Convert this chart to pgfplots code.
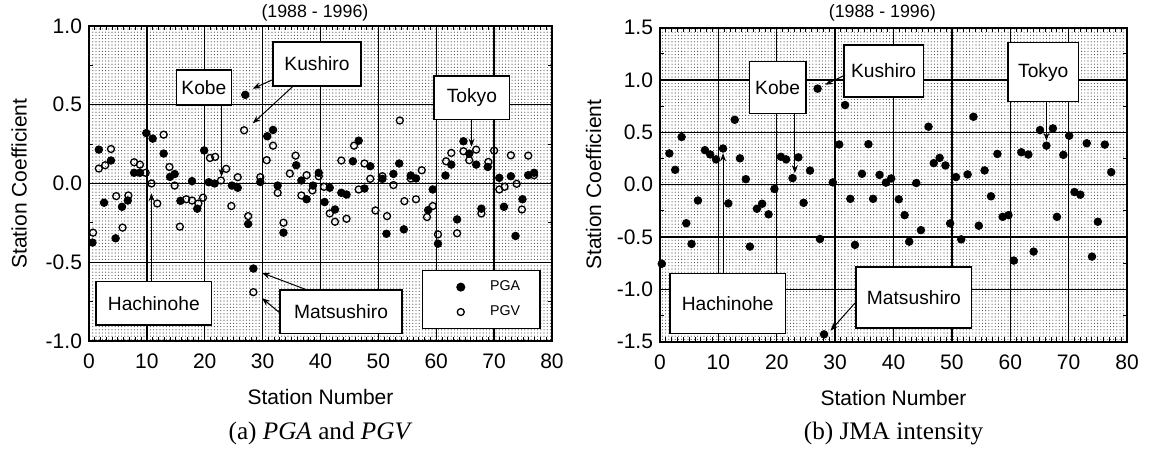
\documentclass[border=0pt]{standalone}
\usepackage{pgfplots}
\pgfplotsset{compat=1.18}
\usepackage{fontspec}
\setmainfont{Liberation Sans}
\newfontfamily\capfont{Liberation Serif}
\usetikzlibrary{patterns,arrows.meta}

% fine stipple used as the plot-area background
\pgfdeclarepatternformonly{stipple}{\pgfqpoint{-0.5pt}{-0.5pt}}{\pgfqpoint{0.5pt}{0.5pt}}{\pgfqpoint{1.6pt}{1.6pt}}{%
  \pgfpathcircle{\pgfqpoint{0pt}{0pt}}{0.28pt}\pgfusepath{fill}}

\pgfplotsset{
  panel/.style={
    scale only axis, anchor=south west,
    xmin=0, xmax=80,
    xtick={0,10,...,80}, xticklabels={0,10,20,30,40,50,60,70,80},
    minor x tick num=9, minor y tick num=1,
    tick align=inside, major tick length=2.2pt, minor tick length=2.2pt,
    grid=major,
    major grid style={black, line width=0.65pt},
    axis line style={line width=1pt},
    every tick/.style={black, line width=0.5pt},
    axis background/.style={pattern=stipple, pattern color=black!75},
    tick label style={font=\fontsize{10.5}{12}\selectfont},
    label style={font=\fontsize{10.5}{12}\selectfont},
    xticklabel style={yshift=-2.8pt},
    xlabel={Station Number},
    ylabel={Station Coefficient},
    clip=false,
  },
  pga/.style={only marks, mark=*, mark size=1.9pt, mark options={fill=black, draw=black},
    legend image code/.code={\path (-18.8pt,0pt); \draw[##1] plot coordinates {(0pt,0pt)};}},
  pgv/.style={only marks, mark=o, mark size=1.75pt, mark options={fill=white, draw=black, line width=0.65pt},
    legend image code/.code={\path (-18.8pt,0pt); \draw[##1] plot coordinates {(0pt,0pt)};}},
}
\tikzset{
  tag/.style={draw=black, line width=0.7pt, fill=white},
  tagtext/.style={font=\fontsize{9.6}{11}\selectfont},
  pointer/.style={line width=0.5pt, -{Stealth[length=4pt,width=3pt]}},
  caption/.style={font=\capfont\fontsize{12.6}{15}\selectfont},
  period/.style={font=\fontsize{8.9}{10}\selectfont},
}

\begin{document}
\begin{tikzpicture}
\useasboundingbox (0,0) rectangle (574.5pt,230.5pt);

% ---------------- (a) PGA and PGV ----------------
\begin{axis}[panel,
  at={(44.5pt,60pt)}, width=231.5pt, height=157.5pt,
  ymin=-1, ymax=1,
  ytick={-1,-0.5,0,0.5,1}, yticklabels={-1.0,-0.5,0.0,0.5,1.0},
  ylabel style={at={(axis description cs:-0.151,0.5)}, anchor=center},
  xlabel style={at={(axis description cs:0.5,-0.178)}, anchor=center},
  legend style={at={(axis cs:57.5,-0.549)}, anchor=north west,
    draw=black, line width=0.7pt, fill=white,
    font=\fontsize{7.1}{8.5}\selectfont,
    inner xsep=0pt, inner ysep=5pt, row sep=6pt,
    nodes={inner sep=0pt, text width=25pt, align=left},
    /tikz/every odd column/.style={column sep=12.8pt}},
]
\addplot[pga] coordinates {
(0.6,-0.375) (1.7,0.215) (2.6,-0.122) (3.8,0.146) (4.6,-0.348) (5.7,-0.148)
(6.7,-0.108) (7.8,0.068) (8.8,0.068) (9.9,0.32) (11.0,0.285) (12.9,0.19)
(14.0,0.042) (14.8,0.06) (15.8,-0.11) (17.8,0.015) (18.7,-0.16) (19.9,0.21)
(20.7,0.008) (21.7,0.0) (24.7,-0.013) (25.7,-0.027) (27.0,0.563) (27.5,-0.257)
(28.4,-0.54) (29.6,0.01) (30.8,0.30) (31.8,0.34) (32.6,-0.013) (33.6,-0.312)
(35.8,0.116) (36.7,0.019) (37.6,-0.10) (38.7,-0.013) (39.7,0.068) (40.7,-0.118)
(41.6,-0.027) (42.5,-0.165) (43.6,-0.059) (44.5,-0.07) (45.6,0.141) (46.6,0.272)
(47.6,-0.032) (48.6,0.11) (50.7,0.03) (51.4,-0.319) (52.6,0.061) (53.6,0.127)
(54.4,-0.291) (55.6,0.051) (56.5,0.032) (58.6,-0.169) (59.4,-0.038) (60.3,-0.382)
(61.6,0.051) (62.6,0.12) (63.6,-0.228) (64.7,0.268) (65.7,0.19) (66.9,0.12)
(67.8,-0.16) (68.9,0.105) (70.9,0.036) (71.7,-0.148) (72.9,0.046) (73.7,-0.333)
(74.9,-0.10) (75.9,0.053) (76.9,0.068)
};
\addlegendentry{PGA}
\addplot[pgv] coordinates {
(0.7,-0.312) (1.7,0.095) (2.8,0.116) (3.8,0.219) (4.7,-0.08) (5.8,-0.28)
(6.8,-0.076) (7.8,0.135) (8.8,0.12) (9.8,0.068) (10.8,0.0) (11.8,-0.127)
(12.9,0.31) (13.9,0.105) (14.8,-0.013) (15.7,-0.274) (16.8,-0.10) (17.8,-0.108)
(18.9,-0.127) (19.7,-0.09) (20.9,0.162) (21.8,0.169) (22.8,0.019) (23.7,0.093)
(24.6,-0.143) (25.7,0.04) (26.8,0.338) (27.5,-0.207) (28.4,-0.69) (29.6,0.04)
(30.7,0.148) (31.8,0.24) (32.6,-0.059) (33.6,-0.249) (34.7,0.063) (35.7,0.177)
(36.7,-0.076) (37.6,0.053) (38.6,-0.044) (39.7,0.046) (40.6,-0.021) (41.6,-0.19)
(42.5,-0.243) (43.6,0.146) (44.5,-0.224) (45.8,0.24) (46.6,-0.038) (47.6,0.127)
(48.6,0.03) (49.5,-0.171) (50.7,0.046) (51.5,-0.207) (52.6,-0.01) (53.7,0.40)
(54.5,-0.112) (55.6,0.032) (56.5,-0.10) (57.5,0.084) (58.4,-0.213) (59.4,-0.143)
(60.3,-0.323) (61.7,0.141) (62.6,0.194) (63.6,-0.316) (64.7,0.205) (65.7,0.148)
(66.9,0.215) (67.8,-0.19) (69.0,0.137) (70.0,0.209) (70.9,-0.038) (71.8,-0.021)
(72.9,0.179) (73.9,-0.002) (74.8,-0.165) (75.9,0.177) (76.9,0.053)
};
\addlegendentry{PGV}

% station labels
\draw[tag] (axis cs:15.1,0.498) rectangle (axis cs:24.6,0.721);
\node[tagtext] at (axis cs:19.85,0.61) {Kobe};
\draw[pointer] (axis cs:22.9,0.498) -- (axis cs:22.9,0.043);

\draw[tag] (axis cs:31.8,0.619) rectangle (axis cs:47.0,0.898);
\node[tagtext] at (axis cs:39.4,0.758) {Kushiro};
\draw[pointer] (axis cs:31.6,0.657) -- (axis cs:28.3,0.602);
\draw[pointer] (axis cs:35.3,0.619) -- (axis cs:28.3,0.382);

\draw[tag] (axis cs:59.6,0.408) rectangle (axis cs:72.7,0.683);
\node[tagtext] at (axis cs:66.15,0.545) {Tokyo};
\draw[pointer] (axis cs:66.1,0.408) -- (axis cs:66.1,0.234);

\draw[tag] (axis cs:1.2,-0.898) rectangle (axis cs:21.2,-0.623);
\node[tagtext] at (axis cs:11.2,-0.76) {Hachinohe};
\draw[pointer] (axis cs:10.8,-0.623) -- (axis cs:10.8,-0.062);

\draw[tag] (axis cs:33.0,-0.951) rectangle (axis cs:54.1,-0.676);
\node[tagtext] at (axis cs:43.55,-0.813) {Matsushiro};
\draw[pointer] (axis cs:37.7,-0.676) -- (axis cs:29.9,-0.568);
\draw[pointer] (axis cs:33.0,-0.822) -- (axis cs:29.9,-0.728);

\node[period] at (axis description cs:0.488,1.041) {(1988 - 1996)};
\node[caption] at (axis description cs:0.5,-0.292) {(a) \textit{PGA} and \textit{PGV}};
\end{axis}

% ---------------- (b) JMA intensity ----------------
\begin{axis}[panel,
  at={(330pt,59.65pt)}, width=233.5pt, height=157pt,
  ymin=-1.5, ymax=1.5,
  ytick={-1.5,-1,-0.5,0,0.5,1,1.5},
  yticklabels={-1.5,-1.0,-0.5,0.0,0.5,1.0,1.5},
  ylabel style={at={(axis description cs:-0.1424,0.5)}, anchor=center},
  xlabel style={at={(axis description cs:0.5,-0.178)}, anchor=center},
]
\addplot[pga] coordinates {
(0.3,-0.755) (1.6,0.299) (2.6,0.142) (3.7,0.456) (4.5,-0.368) (5.4,-0.566)
(6.5,-0.151) (7.7,0.33) (8.6,0.289) (9.6,0.242) (10.8,0.346) (11.7,-0.179)
(12.8,0.62) (13.7,0.252) (14.7,0.053) (15.4,-0.591) (16.6,-0.23) (17.5,-0.182)
(18.6,-0.283) (19.6,-0.041) (20.7,0.267) (21.6,0.242) (22.7,0.063) (23.7,0.261)
(24.6,-0.173) (25.7,0.135) (27.0,0.918) (27.4,-0.519) (28.1,-1.43) (29.6,0.022)
(30.7,0.384) (31.7,0.761) (32.6,-0.135) (33.4,-0.575) (34.6,0.104) (35.7,0.387)
(36.5,-0.135) (37.6,0.094) (38.7,0.02) (39.6,0.06) (40.9,-0.139) (41.9,-0.291)
(42.7,-0.544) (43.9,0.016) (44.7,-0.434) (46.0,0.554) (46.9,0.206) (47.9,0.256)
(48.9,0.184) (49.7,-0.37) (50.7,0.073) (51.6,-0.522) (52.7,0.098) (53.7,0.649)
(54.6,-0.392) (55.6,0.136) (56.7,-0.111) (57.8,0.294) (58.7,-0.307) (59.7,-0.291)
(60.6,-0.725) (61.9,0.31) (63.1,0.288) (64.0,-0.639) (65.1,0.522) (66.2,0.373)
(67.3,0.538) (68.0,-0.307) (69.1,0.285) (70.1,0.468) (71.0,-0.07) (72.0,-0.095)
(73.1,0.396) (74.0,-0.687) (75.0,-0.354) (76.2,0.383) (77.3,0.12)
};

% station labels
\draw[tag] (axis cs:15.3,0.682) rectangle (axis cs:25.0,1.175);
\node[tagtext] at (axis cs:20.15,0.93) {Kobe};
\draw[pointer] (axis cs:23.1,0.682) -- (axis cs:23.1,0.11);

\draw[tag] (axis cs:31.5,0.838) rectangle (axis cs:45.1,1.335);
\node[tagtext] at (axis cs:38.3,1.087) {Kushiro};
\draw[pointer] (axis cs:31.7,1.048) -- (axis cs:28.3,0.955);

\draw[tag] (axis cs:59.6,0.793) rectangle (axis cs:71.7,1.357);
\node[tagtext] at (axis cs:65.65,1.075) {Tokyo};
\draw[pointer] (axis cs:66.2,0.793) -- (axis cs:66.2,0.42);

\draw[tag] (axis cs:1.7,-1.42) rectangle (axis cs:21.5,-0.846);
\node[tagtext] at (axis cs:11.6,-1.133) {Hachinohe};
\draw[pointer] (axis cs:10.8,-0.846) -- (axis cs:10.8,0.30);

\draw[tag] (axis cs:33.6,-1.369) rectangle (axis cs:53.4,-0.786);
\node[tagtext] at (axis cs:43.5,-1.078) {Matsushiro};
\draw[pointer] (axis cs:33.4,-1.13) -- (axis cs:29.2,-1.395);

\node[period] at (axis description cs:0.476,1.048) {(1988 - 1996)};
\node[caption] at (axis description cs:0.5,-0.292) {(b) JMA intensity};
\end{axis}
\end{tikzpicture}
\end{document}
